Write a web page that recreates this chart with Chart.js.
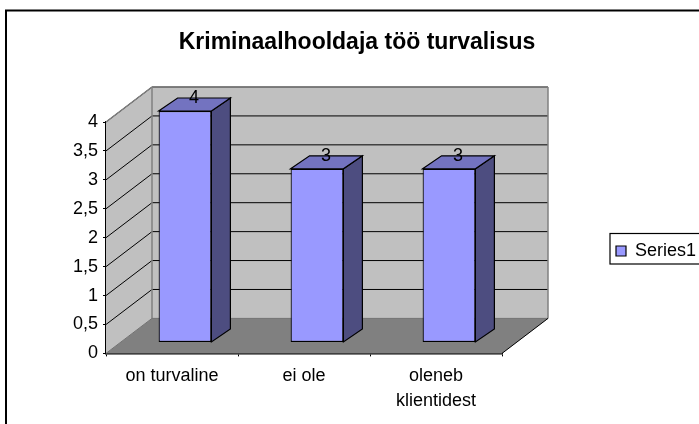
<!DOCTYPE html>
<html><head><meta charset="utf-8">
<style>html,body{margin:0;padding:0;background:#fff;overflow:hidden}#w{position:relative;width:699px;height:424px}canvas{display:block}</style>
<script src="https://cdn.jsdelivr.net/npm/chart.js@4"></script>
</head><body><div id="w"><canvas id="c" width="699" height="424"></canvas></div>
<script>
const categories = [["on turvaline"], ["ei ole"], ["oleneb", "klientidest"]];
const seriesName = "Series1";
const seriesValues = [4, 3, 3];
const tickLabels = ["0","0,5","1","1,5","2","2,5","3","3,5","4"];
const chartTitle = "Kriminaalhooldaja töö turvalisus";

const FONT = '"Liberation Sans", Arial, sans-serif';
const DEPTH = {x: 46, y: -35};
const BAR_SHIFT = {x: 13, y: -11};
const BAR_DEPTH = {x: 19, y: -13};

function poly(ctx, pts, fill, stroke, lw) {
  ctx.beginPath();
  pts.forEach((p, i) => i ? ctx.lineTo(p[0], p[1]) : ctx.moveTo(p[0], p[1]));
  ctx.closePath();
  if (fill) { ctx.fillStyle = fill; ctx.fill(); }
  if (stroke) { ctx.strokeStyle = stroke; ctx.lineWidth = lw || 1; ctx.stroke(); }
}
function line(ctx, a, b, c, lw) {
  ctx.beginPath(); ctx.moveTo(a[0], a[1]); ctx.lineTo(b[0], b[1]);
  ctx.strokeStyle = c; ctx.lineWidth = lw || 1; ctx.stroke();
}

const scene = {
  id: 'scene',
  afterLayout(chart) {
    const l = chart.legend;
    const w = l.width, h = l.height;
    l.left = 606; l.top = 232; l.right = l.left + w; l.bottom = l.top + h;
    const t = chart.titleBlock;
    t.left = 15; t.right = 699; t.width = 684;
  },
  beforeDraw(chart) {
    const ctx = chart.ctx;
    ctx.save();
    ctx.fillStyle = '#fff'; ctx.fillRect(0, 0, chart.width, chart.height);
    ctx.strokeStyle = '#000'; ctx.lineWidth = 2;
    ctx.strokeRect(6, 10.5, 760, 500);
    ctx.lineWidth = 1.2;
    ctx.strokeRect(610, 233.5, 120, 30.5);
    ctx.restore();
  },
  beforeDatasetsDraw(chart) {
    const ctx = chart.ctx, a = chart.chartArea, y = chart.scales.y;
    const dx = DEPTH.x, dy = DEPTH.y;
    ctx.save();
    poly(ctx, [[a.left + dx, a.top + dy], [a.right + dx, a.top + dy], [a.right + dx, a.bottom + dy], [a.left + dx, a.bottom + dy]], '#c0c0c0');
    poly(ctx, [[a.left, a.top], [a.left + dx, a.top + dy], [a.left + dx, a.bottom + dy], [a.left, a.bottom]], '#c0c0c0');
    poly(ctx, [[a.left, a.bottom], [a.left + dx, a.bottom + dy], [a.right + dx, a.bottom + dy], [a.right, a.bottom]], '#808080');
    y.ticks.forEach(t => {
      const py = y.getPixelForValue(t.value);
      if (t.value > 0) {
        line(ctx, [a.left, py], [a.left + dx, py + dy], '#000');
        line(ctx, [a.left + dx, py + dy], [a.right + dx, py + dy], '#000');
      }
    });
    line(ctx, [a.left, a.top], [a.left + dx, a.top + dy], '#808080', 1.5);
    line(ctx, [a.left + dx, a.top + dy], [a.right + dx, a.top + dy], '#808080', 1.5);
    line(ctx, [a.left + dx, a.top + dy], [a.left + dx, a.bottom + dy], '#808080', 1.5);
    line(ctx, [a.right + dx, a.top + dy], [a.right + dx, a.bottom + dy], '#808080', 1.5);
    line(ctx, [a.left + dx, a.bottom + dy], [a.right + dx, a.bottom + dy], '#707070', 1);
    line(ctx, [a.left, a.bottom], [a.left + dx, a.bottom + dy], '#707070', 1);
    line(ctx, [a.right, a.bottom], [a.right + dx, a.bottom + dy], '#000', 1);
    ctx.restore();
  },
  beforeDatasetDraw(chart) {
    const ctx = chart.ctx;
    ctx.save();
    ctx.translate(BAR_SHIFT.x, BAR_SHIFT.y);
    chart.getDatasetMeta(0).data.forEach(b => {
      const p = b.getProps(['x', 'y', 'base', 'width'], true);
      const l = p.x - p.width / 2, r = p.x + p.width / 2, dx = BAR_DEPTH.x, dy = BAR_DEPTH.y;
      poly(ctx, [[r, p.y], [r + dx, p.y + dy], [r + dx, p.base + dy], [r, p.base]], '#4d4d80', '#000', 1.2);
      poly(ctx, [[l, p.y], [l + dx, p.y + dy], [r + dx, p.y + dy], [r, p.y]], '#7373c0', '#000', 1.2);
    });
  },
  afterDatasetDraw(chart) {
    const ctx = chart.ctx;
    ctx.restore();
    ctx.save();
    ctx.fillStyle = '#000'; ctx.font = '18px ' + FONT;
    ctx.textAlign = 'center'; ctx.textBaseline = 'middle';
    chart.getDatasetMeta(0).data.forEach((b, i) => {
      const p = b.getProps(['x', 'y'], true);
      ctx.fillText(String(seriesValues[i]), p.x + BAR_SHIFT.x + 9, p.y + BAR_SHIFT.y - 13);
    });
    ctx.restore();
  }
};

new Chart(document.getElementById('c'), {
  type: 'bar',
  data: { labels: categories, datasets: [{
    label: seriesName, data: seriesValues,
    backgroundColor: '#9999ff', borderColor: '#000', borderWidth: 1.2, borderSkipped: false,
    barPercentage: 0.4, categoryPercentage: 1
  }]},
  plugins: [scene],
  options: {
    responsive: false, animation: false, devicePixelRatio: 1,
    layout: { padding: { left: 15, right: 197, top: 0, bottom: 0 } },
    plugins: {
      tooltip: { enabled: false },
      title: { display: true, text: chartTitle, color: '#000',
        font: { family: FONT, size: 23, weight: 'bold', lineHeight: 1.2 },
        padding: { top: 29, bottom: 65.4 } },
      legend: { display: true, position: 'chartArea', align: 'start',
        labels: { boxWidth: 10, boxHeight: 10, padding: 10, color: '#000',
          font: { family: FONT, size: 18 } } }
    },
    scales: {
      x: { position: 'bottom',
        afterFit(s) { s.height = 70.6; },
        grid: { display: true, drawOnChartArea: false, drawTicks: true, tickLength: 3, color: '#000', offset: true },
        border: { color: '#000', width: 1.5 },
        ticks: { color: '#000', font: { family: FONT, size: 18, lineHeight: 1.39 }, maxRotation: 0, padding: 7 }
      },
      y: { min: 0, max: 4, afterFit(s) { s.width = 91; },
        grid: { display: true, drawOnChartArea: false, drawTicks: true, tickLength: 3, color: '#000' },
        border: { color: '#000', width: 1.5 },
        ticks: { stepSize: 0.5, color: '#000', font: { family: FONT, size: 18 }, padding: 5,
          callback: (v, i) => tickLabels[i] }
      }
    }
  }
});
</script></body></html>
